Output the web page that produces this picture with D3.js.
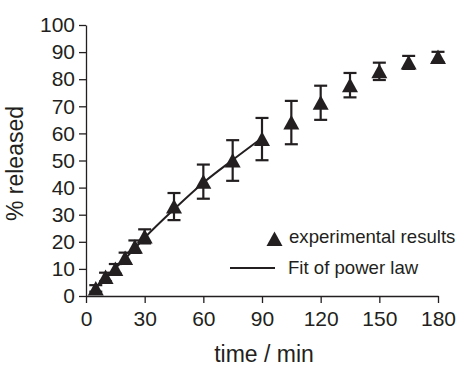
<html>
<head>
<meta charset="utf-8">
<script src="https://d3js.org/d3.v7.min.js"></script>
<style>
body {
  margin: 0;
  background: #fff;
}
text {
  font-family: "Liberation Sans", Arial, Helvetica, sans-serif;
  fill: #231f20;
}
.axis path, .axis line {
  stroke: #231f20;
  stroke-width: 1.3;
}
</style>
</head>
<body>
<svg width="458" height="368"></svg>
<script>

// data
var times    = [5, 10, 15, 20, 25, 30, 45, 60, 75, 90, 105, 120, 135, 150, 165, 180];
var released = [2.8, 7, 10, 14, 18.2, 22, 33, 42.2, 50, 57.9, 64, 71.3, 77.8, 82.9, 86.2, 88.2];
var errors   = [1.2, 1.6, 1.8, 2, 2.3, 2.6, 5, 6.3, 7.5, 7.8, 8, 6.3, 4.5, 3.2, 2.4, 1.9];

var fitTimes  = [5, 10, 15, 20, 30, 45, 60, 75, 90];
var fitValues = [3, 6.8, 10.3, 13.8, 21.5, 32, 41.8, 50.2, 58.3];

var xTicks = [0, 30, 60, 90, 120, 150, 180];
var yTicks = [0, 10, 20, 30, 40, 50, 60, 70, 80, 90, 100];

var svg = d3.select("svg"),
    margin = {top: 25, right: 20, bottom: 72, left: 86},
    width = +svg.attr("width") - margin.left - margin.right,
    height = +svg.attr("height") - margin.top - margin.bottom;

var g = svg.append("g")
    .attr("transform", "translate(" + margin.left + "," + margin.top + ")");

var x = d3.scaleLinear().domain([0, 180]).range([0, width]);
var y = d3.scaleLinear().domain([0, 100]).range([height, 0]);

// axes
g.append("g")
    .attr("class", "axis")
    .attr("transform", "translate(0," + height + ")")
    .call(d3.axisBottom(x).tickValues(xTicks).tickSize(7).tickSizeOuter(0).tickPadding(8))
    .selectAll("text").style("font-size", "21px");

g.append("g")
    .attr("class", "axis")
    .call(d3.axisLeft(y).tickValues(yTicks).tickSize(7).tickSizeOuter(0).tickPadding(4))
    .selectAll("text").style("font-size", "21px");

g.selectAll(".axis text").attr("fill", "#231f20");

// axis titles
g.append("text")
    .attr("x", width / 2 + 2)
    .attr("y", height + 66)
    .attr("text-anchor", "middle")
    .style("font-size", "23px")
    .text("time / min");

g.append("text")
    .attr("transform", "translate(" + (-63) + "," + (height / 2 + 3) + ") rotate(-90)")
    .attr("text-anchor", "middle")
    .style("font-size", "23px")
    .text("% released");

// fit line
var fit = fitTimes.map(function(t, i) { return {t: t, v: fitValues[i]}; });
var line = d3.line()
    .x(d => x(d.t))
    .y(d => y(d.v))
    .curve(d3.curveMonotoneX);

g.append("path")
    .datum(fit)
    .attr("fill", "none")
    .attr("stroke", "#231f20")
    .attr("stroke-width", 2)
    .attr("d", line);

// points with error bars
var pts = times.map(function(t, i) { return {t: t, v: released[i], e: errors[i]}; });
var capW = 6.5;

var eb = g.selectAll(".err")
    .data(pts)
  .enter().append("g")
    .attr("class", "err")
    .attr("stroke", "#231f20")
    .attr("stroke-width", 2.2);

eb.append("line")
    .attr("x1", d => x(d.t)).attr("x2", d => x(d.t))
    .attr("y1", d => y(d.v + d.e)).attr("y2", d => y(d.v - d.e));
eb.append("line")
    .attr("x1", d => x(d.t) - capW).attr("x2", d => x(d.t) + capW)
    .attr("y1", d => y(d.v + d.e)).attr("y2", d => y(d.v + d.e));
eb.append("line")
    .attr("x1", d => x(d.t) - capW).attr("x2", d => x(d.t) + capW)
    .attr("y1", d => y(d.v - d.e)).attr("y2", d => y(d.v - d.e));

function tri(cx, cy) {
    return "M" + cx + "," + (cy - 7.5) + "L" + (cx + 8) + "," + (cy + 7) + "L" + (cx - 8) + "," + (cy + 7) + "Z";
}

g.selectAll(".pt")
    .data(pts)
  .enter().append("path")
    .attr("class", "pt")
    .attr("fill", "#231f20")
    .attr("d", d => tri(x(d.t), y(d.v)));

// legend
var lg = svg.append("g");
lg.append("path").attr("fill", "#231f20").attr("d", tri(274.5, 239));
lg.append("text").attr("x", 289).attr("y", 243).style("font-size", "18.6px").text("experimental results");
lg.append("line").attr("x1", 230).attr("x2", 275).attr("y1", 268).attr("y2", 268)
    .attr("stroke", "#231f20").attr("stroke-width", 2);
lg.append("text").attr("x", 288).attr("y", 274).style("font-size", "18.6px").text("Fit of power law");

</script>
</body>
</html>
